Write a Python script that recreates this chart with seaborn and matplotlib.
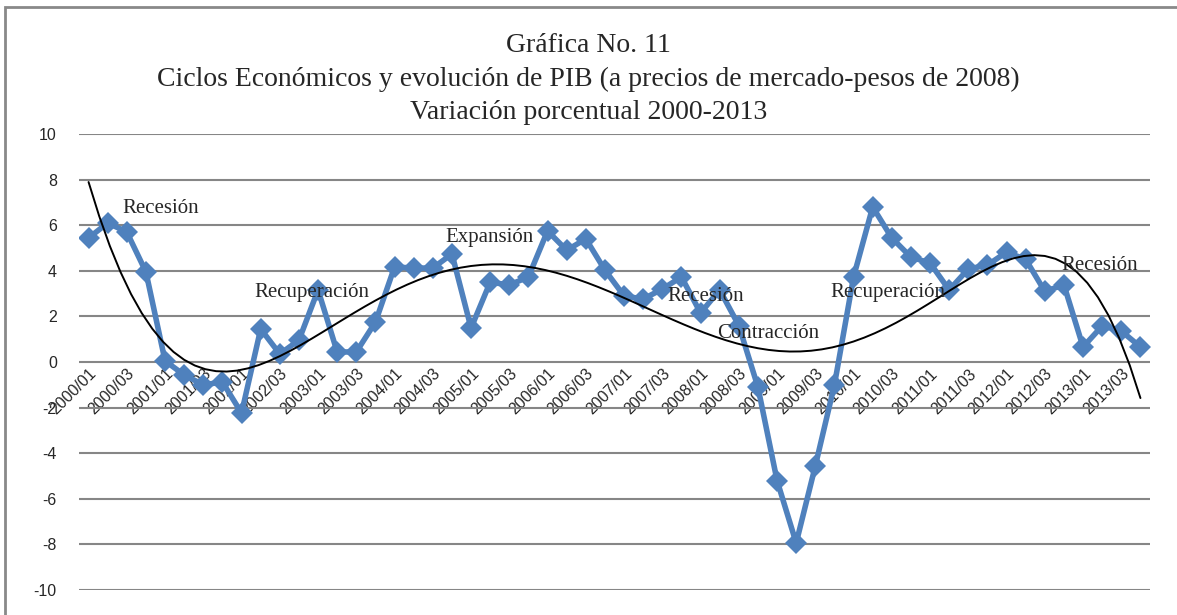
import matplotlib.pyplot as plt
import numpy as np
import seaborn as sns
from matplotlib.patches import Rectangle

# quarterly GDP variation, 2000/01 - 2013/04
years = list(range(2000, 2014))
quarters = ["01", "02", "03", "04"]
periods = [f"{y}/{q}" for y in years for q in quarters]

pib_var = [5.44, 6.10, 5.70, 3.95, 0.05, -0.57, -1.00, -0.88,
           -2.24, 1.45, 0.35, 0.96, 3.16, 0.44, 0.44, 1.75,
           4.17, 4.12, 4.12, 4.74, 1.49, 3.50, 3.38, 3.73,
           5.75, 4.90, 5.40, 4.03, 2.90, 2.76, 3.20, 3.73,
           2.15, 3.16, 1.60, -1.10, -5.20, -7.94, -4.56, -1.00,
           3.73, 6.80, 5.44, 4.60, 4.34, 3.16, 4.08, 4.25,
           4.82, 4.50, 3.10, 3.38, 0.66, 1.58, 1.36, 0.66]

# cycle labels: (text, x position in quarters, y)
phases = [("Recesión", 1.78, 6.75), ("Recuperación", 8.68, 3.03),
          ("Expansión", 18.66, 5.48), ("Recesión", 30.27, 2.89),
          ("Contracción", 32.88, 1.27), ("Recuperación", 38.79, 3.03),
          ("Recesión", 50.86, 4.25)]

sns.set_style("white")
plt.rcParams['font.family'] = ['Liberation Sans', 'DejaVu Sans']
plt.rcParams['axes.unicode_minus'] = False

fig = plt.figure(figsize=(11.77, 6.15), dpi=100)
ax = fig.add_axes([79 / 1177, 1 - 590 / 615, (1150 - 79) / 1177, (590 - 134) / 615])

idx = np.arange(len(pib_var))
sns.lineplot(x=idx, y=pib_var, ax=ax, color="#4F81BD", lw=4,
             marker="D", markersize=11, markeredgewidth=0, zorder=3)
# polynomial trend (Excel style)
sns.regplot(x=idx, y=pib_var, ax=ax, order=6, scatter=False, ci=None,
            color="black", line_kws={"lw": 1.4, "zorder": 4})

for txt, px, py in phases:
    ax.text(px, py, txt, family="Liberation Serif", fontsize=15,
            va="center", ha="left", zorder=5)

ax.set_xlim(-0.5, len(pib_var) - 0.5)
ax.set_ylim(-10, 10)
ax.set_yticks(range(-10, 11, 2))
ax.yaxis.grid(True, color="#868686", lw=1.5)
ax.set_axisbelow(True)

# category axis crosses at 0 (set before labels, it resets the ticks)
ax.spines["bottom"].set_position(("data", 0))
for s in ax.spines.values():
    s.set_visible(False)
ax.set_xticks(idx[::2])
ax.set_xticklabels(periods[::2], rotation=45, ha="right",
                   rotation_mode="anchor", fontsize=11.5)
ax.tick_params(axis="x", length=0, pad=3)
ax.tick_params(axis="y", length=0, pad=16, labelsize=11.5)
ax.set_xlabel("")
ax.set_ylabel("")

fig.text(0.5, 1 - 79 / 615,
         "Gráfica No. 11\n"
         "Ciclos Económicos y evolución de PIB (a precios de mercado-pesos de 2008)\n"
         "Variación porcentual 2000-2013",
         ha="center", va="center", family="Liberation Serif", fontsize=20,
         linespacing=1.42)

# chart area border
fig.add_artist(Rectangle((5 / 1177, -0.1), 1.2, 1 - 7 / 615 + 0.1,
                         transform=fig.transFigure, fill=False,
                         edgecolor="#898989", lw=2))

fig.savefig("out.png", dpi=100)
